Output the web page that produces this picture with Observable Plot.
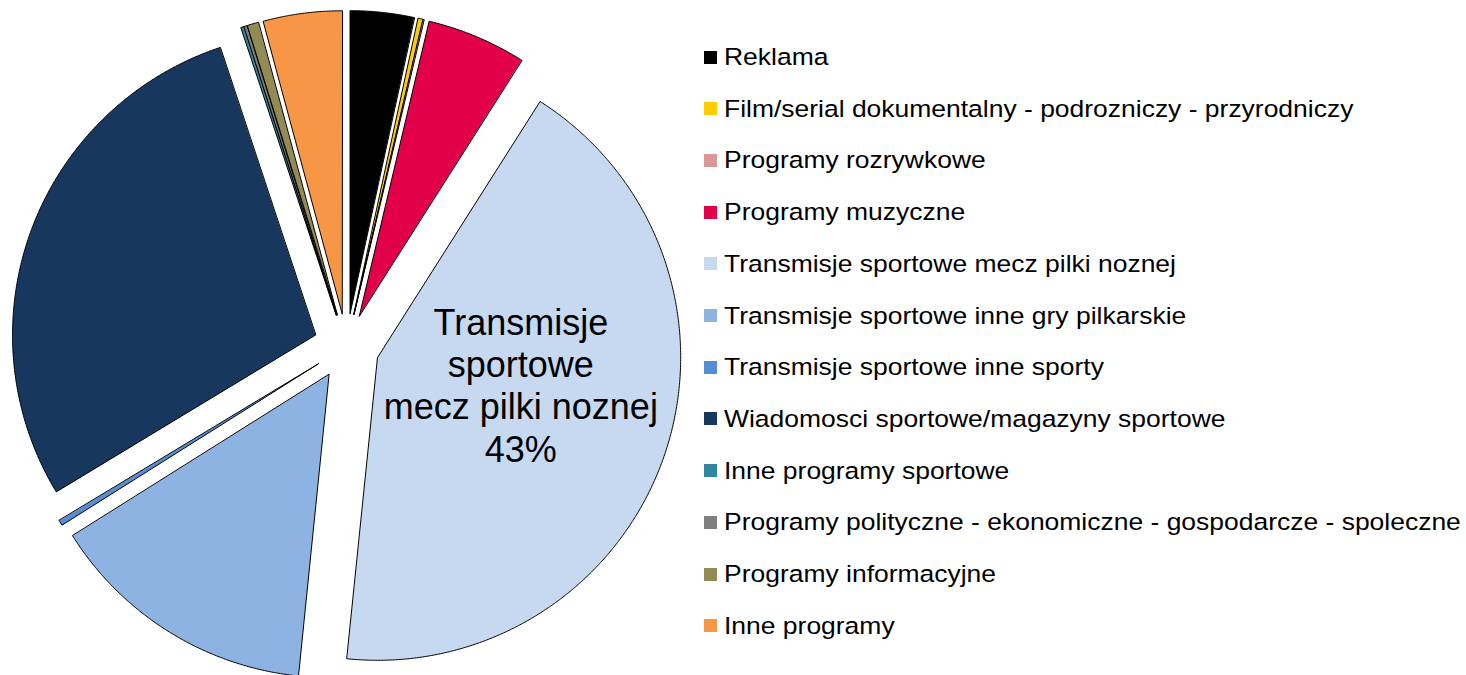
<!DOCTYPE html>
<html>
<head>
<meta charset="utf-8">
<script src="https://cdn.jsdelivr.net/npm/d3@7"></script>
<script src="https://cdn.jsdelivr.net/npm/@observablehq/plot@0.6"></script>
<style>
  html, body { margin: 0; padding: 0; background: #fff; }
  #wrap { position: relative; width: 1466px; height: 675px; overflow: hidden; font-family: "Liberation Sans", Arial, sans-serif; }
  #chart { position: absolute; left: 0; top: 0; }
  #legend { position: absolute; left: 704px; top: 0; }
  .item { position: absolute; left: 0; height: 30px; display: flex; align-items: center; white-space: nowrap; }
  .sw { width: 13px; height: 13px; flex: none; }
  .lab { font-size: 24.5px; color: #000; margin-left: 7px; transform: scaleX(1.08); transform-origin: left center; }
</style>
</head>
<body>
<div id="wrap">
  <div id="chart"></div>
  <div id="legend"></div>
</div>
<script>
const categories = [
  "Reklama",
  "Film/serial dokumentalny - podrozniczy - przyrodniczy",
  "Programy rozrywkowe",
  "Programy muzyczne",
  "Transmisje sportowe mecz pilki noznej",
  "Transmisje sportowe inne gry pilkarskie",
  "Transmisje sportowe inne sporty",
  "Wiadomosci sportowe/magazyny sportowe",
  "Inne programy sportowe",
  "Programy polityczne - ekonomiczne - gospodarcze - spoleczne",
  "Programy informacyjne",
  "Inne programy"
];
const values = [3.4, 0.25, 0.05, 5.3, 42.6, 14.45, 0.28, 28.55, 0.15, 0.15, 0.6, 4.2];
const colors = [
  "#000000", "#FFCC00", "#D99795", "#E3004B", "#C6D9F1", "#8DB3E2",
  "#558ED5", "#17375E", "#31859C", "#7F7F7F", "#948A54", "#F79646"
];
const labelledIndex = 4;
const labelLines = ["Transmisje", "sportowe", "mecz pilki noznej"];

// layout constants (pixels)
const W = 690, H = 675, CX = 346, CY = 346, R = 303, EXPLODE = 33;
const ex = EXPLODE / R;

const total = d3.sum(values);
const arcs = d3.pie().sort(null).value(d => d)(values);

// polygon points for each slice, in unit-radius coordinates (y up)
const pts = [];
arcs.forEach((a, i) => {
  const mid = (a.startAngle + a.endAngle) / 2;
  const ox = ex * Math.sin(mid), oy = ex * Math.cos(mid);
  pts.push({i, x: ox, y: oy});
  const n = Math.max(2, Math.ceil((a.endAngle - a.startAngle) / 0.005));
  for (let k = 0; k <= n; k++) {
    const t = a.startAngle + (a.endAngle - a.startAngle) * k / n;
    pts.push({i, x: ox + Math.sin(t), y: oy + Math.cos(t)});
  }
});

const la = arcs[labelledIndex];
const lmid = (la.startAngle + la.endAngle) / 2;
const labelData = [{
  x: ex * Math.sin(lmid) + 0.5 * Math.sin(lmid),
  y: ex * Math.cos(lmid) + 0.5 * Math.cos(lmid),
  text: labelLines.join("\n") + "\n" + Math.round(values[labelledIndex] / total * 100) + "%"
}];

const marks = arcs.map((a, i) =>
  Plot.line(pts.filter(p => p.i === i), {
    x: "x", y: "y", curve: "linear-closed",
    fill: colors[i], stroke: "#000", strokeWidth: 1, strokeLinejoin: "miter"
  })
);
marks.push(Plot.text(labelData, {
  x: "x", y: "y", text: "text", fontSize: 36, lineHeight: 1.17, dy: -22,
  fill: "#000", textAnchor: "middle", lineAnchor: "middle",
  fontFamily: "Liberation Sans, Arial, sans-serif"
}));

const chart = Plot.plot({
  width: W, height: H, margin: 0,
  x: {domain: [-CX / R, (W - CX) / R], axis: null},
  y: {domain: [-(H - CY) / R, CY / R], axis: null},
  style: {background: "transparent", overflow: "visible"},
  marks
});
document.getElementById("chart").appendChild(chart);

const legend = document.getElementById("legend");
categories.forEach((c, i) => {
  const it = document.createElement("div");
  it.className = "item";
  it.style.top = (57 + 51.7 * i - 15) + "px";
  const sw = document.createElement("div");
  sw.className = "sw";
  sw.style.background = colors[i];
  const lab = document.createElement("span");
  lab.className = "lab";
  lab.textContent = c;
  it.appendChild(sw);
  it.appendChild(lab);
  legend.appendChild(it);
});
</script>
</body>
</html>
